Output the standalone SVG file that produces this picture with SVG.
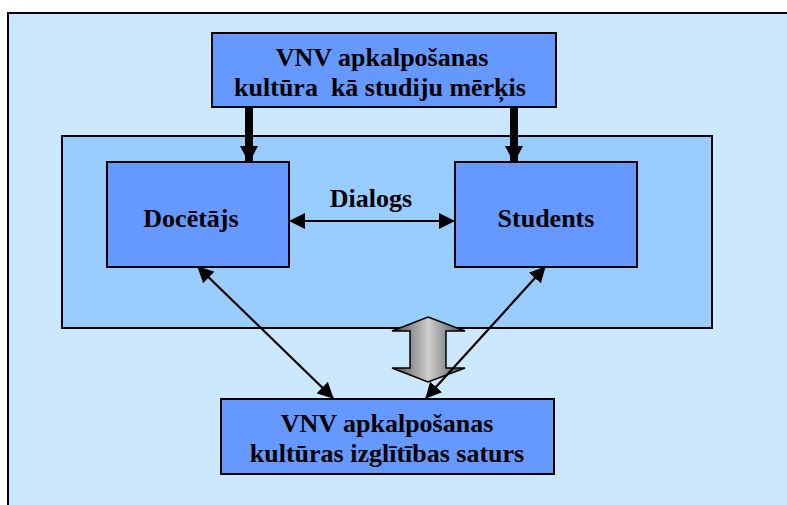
<svg xmlns="http://www.w3.org/2000/svg" width="787" height="505" viewBox="0 0 787 505">
<defs>
<style>
.box{fill:#6699FF;stroke:#000;stroke-width:2}
.t{font-family:"Liberation Serif","Times New Roman",serif;font-weight:bold;font-size:26px;fill:#000;text-anchor:middle}
.ln{stroke:#000;stroke-width:2.2;fill:none}
.thick{stroke:#000;stroke-width:8;fill:none}
</style>
<marker id="ah" viewBox="0 0 16 16" refX="15" refY="8" markerWidth="16" markerHeight="16" markerUnits="userSpaceOnUse" orient="auto-start-reverse">
<path d="M0,0 L16,8 L0,16 Z" fill="#000"/>
</marker>
<marker id="ahT" viewBox="0 0 17 18" refX="16" refY="9" markerWidth="17" markerHeight="18" markerUnits="userSpaceOnUse" orient="auto">
<path d="M0,0 L17,9 L0,18 Z" fill="#000"/>
</marker>
<linearGradient id="g" x1="0" y1="0" x2="1" y2="0">
<stop offset="0" stop-color="#4a4a4a"/>
<stop offset="0.5" stop-color="#cfcfcf"/>
<stop offset="1" stop-color="#4a4a4a"/>
</linearGradient>
</defs>
<rect x="0" y="0" width="787" height="505" fill="#fff"/>
<rect id="frame" x="8" y="13" width="800" height="520" fill="#CCE8FF" stroke="#000" stroke-width="2"/>
<g id="area">
<rect x="62" y="136" width="650" height="192" fill="#99CCFF" stroke="#000" stroke-width="2"/>
</g>
<g id="goal">
<rect class="box" x="212" y="33" width="344" height="74"/>
<text class="t" x="382" y="66">VNV apkalpošanas</text>
<text class="t" x="380" y="96" xml:space="preserve">kultūra  kā studiju mērķis</text>
</g>
<g id="teacher">
<rect class="box" x="107" y="162" width="182" height="105"/>
<text class="t" x="191" y="227">Docētājs</text>
</g>
<g id="students">
<rect class="box" x="455" y="162" width="182" height="105"/>
<text class="t" x="546" y="227">Students</text>
</g>
<g id="content">
<rect class="box" x="221" y="399" width="333" height="75"/>
<text class="t" x="387" y="432">VNV apkalpošanas</text>
<text class="t" x="387" y="462">kultūras izglītības saturs</text>
</g>
<g id="connectors">
<line class="thick" x1="249" y1="107" x2="249" y2="162" marker-end="url(#ahT)"/>
<line class="thick" x1="514" y1="107" x2="514" y2="162" marker-end="url(#ahT)"/>
<line class="ln" x1="290" y1="221" x2="454" y2="221" marker-start="url(#ah)" marker-end="url(#ah)"/>
<text class="t" x="371" y="207">Dialogs</text>
<line class="ln" x1="198" y1="267" x2="333" y2="398" marker-start="url(#ah)" marker-end="url(#ah)"/>
<polygon points="428,317 465,331 446,331 446,368 465,368 428,382 392,368 410,368 410,331 392,331" fill="url(#g)" stroke="#000" stroke-width="1.5" stroke-linejoin="miter"/>
<line class="ln" x1="545" y1="267" x2="426" y2="398" marker-start="url(#ah)" marker-end="url(#ah)"/>
</g>
</svg>
